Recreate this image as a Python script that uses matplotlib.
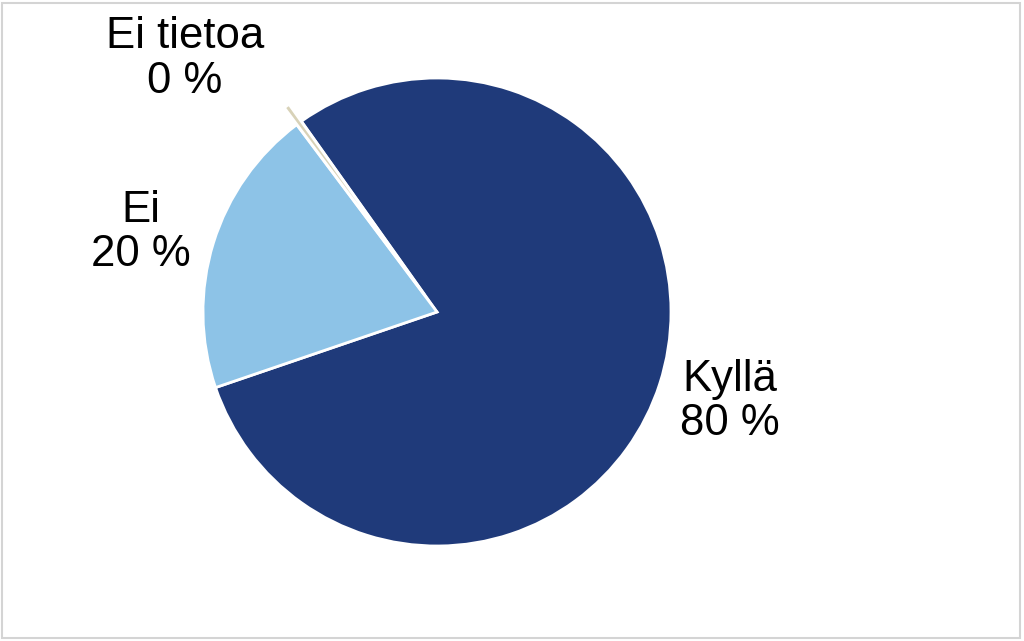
import matplotlib.pyplot as plt
from matplotlib.patches import Rectangle

categories = ["Kyllä", "Ei", "Ei tietoa"]
shares = [79.6, 20.0, 0.4]
colors = ["#1F3A7A", "#8DC3E7", "#D8D2B8"]
explode = [0.0, 0.0, 0.09]

plt.rcParams["font.family"] = ["Liberation Sans", "DejaVu Sans"]

fig = plt.figure(figsize=(10.24, 6.41), dpi=100)
# pie centre ~(437, 312) px, radius ~234 px
ax = fig.add_axes([203 / 1024, 95 / 641, 468 / 1024, 468 / 641])

labels = ["%s\n%.0f %%" % (c, v) for c, v in zip(categories, shares)]
wedges, texts = ax.pie(
    shares,
    labels=labels,
    colors=colors,
    explode=explode,
    startangle=125.4,
    counterclock=False,
    labeldistance=1.31,
    wedgeprops=dict(edgecolor="white", linewidth=2.0),
    textprops=dict(fontsize=31.5, color="black", linespacing=1.11),
)
ax.set_xlim(-1, 1)
ax.set_ylim(-1, 1)
ax.set_aspect("equal")
for w in wedges:
    w.set_clip_on(False)

# label positions as placed in the original (in units of the pie radius)
label_pos = [(1.252, -0.382), (-1.265, 0.340), (-1.077, 1.082)]
for t, pos in zip(texts, label_pos):
    t.set_position(pos)
    t.set_horizontalalignment("center")
    t.set_verticalalignment("center")
    t.set_multialignment("center")
    t.set_clip_on(False)

fig.patches.append(Rectangle((2 / 1024, 3 / 641), 1018 / 1024, 635 / 641,
                             transform=fig.transFigure, fill=False,
                             edgecolor="#D4D4D4", linewidth=1.5))

fig.savefig("out.png", dpi=100)
